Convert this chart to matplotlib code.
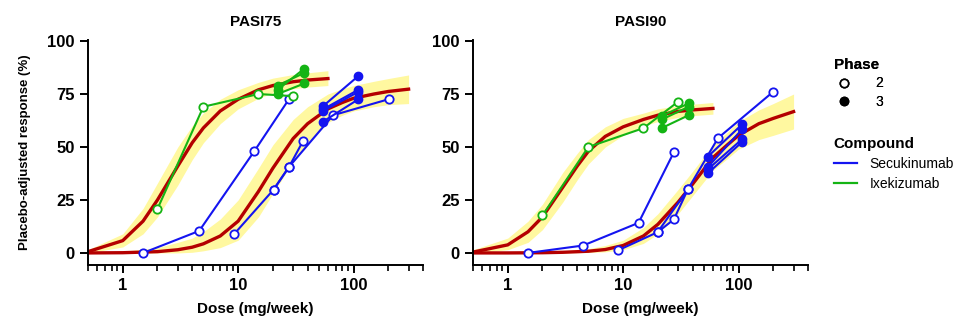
import numpy as np
import matplotlib.pyplot as plt
from matplotlib.lines import Line2D
from matplotlib.ticker import LogLocator, NullFormatter, FixedLocator, FixedFormatter

plt.rcParams['font.family'] = ['Liberation Sans', 'DejaVu Sans']

BLUE = '#1414F0'
GREEN = '#14B414'
RED = '#B40000'
YELLOW = '#FFF8A0'

# ---- model curves ----
ixe_dose = [0.5, 1, 1.5, 2, 3, 4, 5, 7, 10, 15, 20, 30, 40, 60]
ixe75_mid = [0.6, 5.8, 15, 25, 41, 52, 59, 67, 72.5, 77, 79, 80.8, 81.6, 82.3]
ixe75_lo = [0, 2.8, 9, 17, 32, 44, 52, 61, 68, 73, 75.5, 77.5, 78.3, 79]
ixe75_hi = [1.5, 9, 21, 33, 50, 60, 66, 72.5, 77, 80.5, 82.5, 84.2, 85, 86]
ixe90_mid = [0.4, 3.8, 10, 17, 31, 41, 48, 55, 59.5, 63, 65, 66.8, 67.5, 68.2]
ixe90_lo = [0, 1.5, 5, 11, 24, 34.5, 42, 50, 55.5, 60, 62, 64, 64.8, 65.5]
ixe90_hi = [1.5, 7, 15, 23, 38, 47, 53.5, 59.5, 63.5, 66, 68, 69.5, 70.2, 71]

sec75_dose = [0.5, 1, 2, 3, 4, 5, 7, 10, 15, 20, 30, 40, 60, 80, 100, 150, 200, 300]
sec75_mid = [0, 0.1, 0.6, 1.5, 2.7, 4.3, 8, 15, 29, 40, 54, 61, 68, 71, 73, 75, 76.2, 77.3]
sec75_lo = [0, 0, 0, 0, 0.3, 1, 2.5, 6, 17, 28, 43, 52, 61.5, 65, 67, 69, 70, 70.5]
sec75_hi = [0.3, 0.8, 2.5, 5, 7, 10, 16, 25, 40, 51, 63, 69, 75, 77.5, 79, 81, 82.3, 84]

sec90_dose = [0.5, 1, 2, 3, 5, 7, 10, 15, 20, 30, 40, 60, 80, 100, 150, 200, 300]
sec90_mid = [0, 0, 0.1, 0.3, 0.8, 1.6, 3.5, 8, 13.5, 24, 32.5, 45, 51, 55.5, 61, 63.5, 66.7]
sec90_lo = [0, 0, 0, 0, 0.2, 0.5, 1.5, 4.5, 9, 18.5, 27, 39, 44.5, 49, 53.5, 55.5, 58.5]
sec90_hi = [0, 0.2, 0.5, 1, 2, 3.5, 6, 12, 18.5, 30, 38.5, 51, 57, 62, 67.5, 70.5, 75]

# ---- observed trial arms: (dose, response) per trial ----
# PASI75
sec75_p2 = [([1.5, 4.6, 13.8, 27.6], [0, 10.4, 48, 72.6]),
            ([9.2, 20.3, 27.6, 36.5], [8.8, 29.9, 40.6, 52.8]),
            ([20.3, 27.6, 66.6, 203], [29.9, 40.6, 65, 72.6])]
sec75_p3_dose = [54.5, 110]
sec75_p3 = [[62, 72.5], [67, 76], [67.8, 77], [69.3, 83.5]]
ixe75_p2 = [([2, 5, 15, 30], [20.8, 69, 75, 74])]
ixe75_p3_dose = [22, 37.5]
ixe75_p3 = [[75, 80], [77, 87], [79, 85]]

# PASI90
sec90_p2 = [([1.5, 4.5, 13.6, 27.5], [0, 3.5, 14.2, 47.5]),
            ([9.1, 19.9, 27.5, 36.4], [1.3, 9.8, 15.8, 30]),
            ([19.9, 36.4, 66.4, 200], [9.8, 30, 54.2, 76.1])]
sec90_p3_dose = [54.3, 108]
sec90_p3 = [[37.6, 52.5], [39.5, 53.8], [40.6, 58.5], [45.5, 60.8]]
ixe90_p2 = [([2, 5, 15, 30], [17.7, 50, 58.9, 71.4])]
ixe90_p3_dose = [21.7, 37]
ixe90_p3 = [[59, 65], [63, 69], [64.7, 70.6]]

panels = [
    ("PASI75", [(ixe_dose, ixe75_mid, ixe75_lo, ixe75_hi), (sec75_dose, sec75_mid, sec75_lo, sec75_hi)],
     [(sec75_p2, sec75_p3_dose, sec75_p3, BLUE), (ixe75_p2, ixe75_p3_dose, ixe75_p3, GREEN)]),
    ("PASI90", [(ixe_dose, ixe90_mid, ixe90_lo, ixe90_hi), (sec90_dose, sec90_mid, sec90_lo, sec90_hi)],
     [(sec90_p2, sec90_p3_dose, sec90_p3, BLUE), (ixe90_p2, ixe90_p3_dose, ixe90_p3, GREEN)]),
]

fig = plt.figure(figsize=(9.6, 3.24), dpi=100)
lefts = [88 / 960, 473 / 960]

for i, (title, curves, trials) in enumerate(panels):
    ax = fig.add_axes([lefts[i], 59 / 324, 335 / 960, 225 / 324])
    for d, m, lo, hi in curves:
        ax.fill_between(d, lo, hi, color=YELLOW, lw=0, zorder=1)
        ax.plot(d, m, color=RED, lw=2.4, zorder=2)
    for p2, p3d, p3, col in trials:
        for d, r in p2:
            ax.plot(d, r, color=col, lw=1.5, marker='o', ms=6, mfc='white',
                    mec=col, mew=1.3, zorder=3)
        for r in p3:
            ax.plot(p3d, r, color=col, lw=1.5, marker='o', ms=6, mfc=col,
                    mec=col, zorder=4)

    ax.set_xscale('log')
    ax.set_xlim(0.5, 400)
    ax.set_ylim(-5.7, 100.5)
    ax.spines[['top', 'right']].set_visible(False)
    for s in ['left', 'bottom']:
        ax.spines[s].set_linewidth(1.4)
    ax.xaxis.set_major_locator(FixedLocator([1, 10, 100]))
    ax.xaxis.set_major_formatter(FixedFormatter(['1', '10', '100']))
    ax.xaxis.set_minor_locator(LogLocator(base=10, subs=np.arange(2, 10)))
    ax.xaxis.set_minor_formatter(NullFormatter())
    ax.set_yticks([0, 25, 50, 75, 100])
    ax.tick_params(axis='both', which='major', length=6, width=1.4, labelsize=12)
    ax.tick_params(axis='x', which='minor', length=4, width=1.2)
    for lab in ax.get_xticklabels() + ax.get_yticklabels():
        lab.set_fontweight('bold')
    ax.set_title(title, fontsize=11, fontweight='bold', pad=10)
    ax.set_xlabel("Dose (mg/week)", fontsize=11, fontweight='bold', labelpad=6)
    if i == 0:
        ax.set_ylabel("Placebo-adjusted response (%)", fontsize=9.5, fontweight='bold', labelpad=12)

# legends
ph_handles = [Line2D([], [], ls='none', marker='o', ms=6, mfc='white', mec='black', mew=1.2),
              Line2D([], [], ls='none', marker='o', ms=6, mfc='black', mec='black')]
leg1 = fig.legend(ph_handles, ['2', '3'], title='Phase', loc='upper left',
                  bbox_to_anchor=(828 / 960, 1 - 52 / 324), frameon=False, borderaxespad=0,
                  fontsize=10, handlelength=1.5, handletextpad=1.5, labelspacing=0.35,
                  alignment='left', title_fontproperties={'weight': 'bold', 'size': 11})
fig.add_artist(leg1)
cp_handles = [Line2D([], [], color=BLUE, lw=1.6), Line2D([], [], color=GREEN, lw=1.6)]
fig.legend(cp_handles, ['Secukinumab', 'Ixekizumab'], title='Compound', loc='upper left',
           bbox_to_anchor=(828 / 960, 1 - 131 / 324), frameon=False, borderaxespad=0,
           fontsize=10, handlelength=1.7, handletextpad=0.9, labelspacing=0.45,
           alignment='left', title_fontproperties={'weight': 'bold', 'size': 11})

fig.savefig("out.png", dpi=100)
